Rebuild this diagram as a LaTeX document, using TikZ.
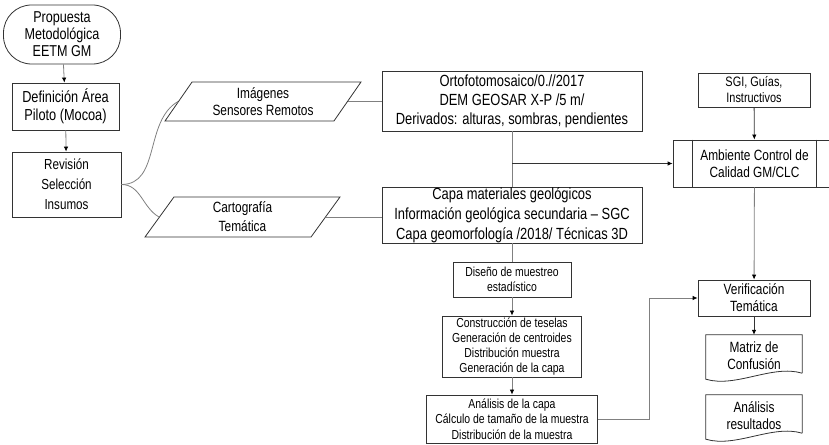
\documentclass[tikz,border=0pt]{standalone}
\usepackage{fontspec}
\setmainfont{Liberation Sans}[FakeStretch=0.8]
\usepackage{tikz}
\usetikzlibrary{arrows.meta}
\usetikzlibrary{shapes.geometric}
\begin{document}
\begin{tikzpicture}
[x=1bp,y=-1bp,
box/.style={rectangle,draw=black!80,line width=0.8bp,align=center,inner sep=0pt},
data node/.style={trapezium,trapezium left angle=46,trapezium right angle=134,trapezium stretches body,draw=black!80,line width=0.8bp,align=center,inner sep=0pt},
bigtxt/.style={font=\fontsize{16.2}{19}\selectfont},
midtxt/.style={font=\fontsize{14.9}{17}\selectfont},
smalltxt/.style={font=\fontsize{13.1}{15.5}\selectfont},
link/.style={draw=black!50,line width=0.8bp},
flow/.style={draw=black!50,line width=0.8bp,-{Latex[length=5bp,width=4.5bp,color=black]}},
darkflow/.style={flow,draw=black!80}]
\useasboundingbox (0,0) rectangle (829,445);
\clip (0,0) rectangle (829,445);
% left column
\node[box,font=\fontsize{15.8}{17}\selectfont,rounded corners=28bp,minimum width=117bp,minimum height=59bp] (prop) at (62,34.5) {Propuesta\\Metodológica\\EETM GM};
\node[box,font=\fontsize{16}{18}\selectfont,minimum width=107bp,minimum height=47bp] (def) at (65.5,106.5) {Definición Área\\Piloto (Mocoa)};
\node[box,font=\fontsize{14.6}{20}\selectfont,minimum width=109bp,minimum height=65bp] (rev) at (66.5,184.5) {Revisión\\Selección\\Insumos};
% inputs
\node[data node,midtxt,minimum width=196bp,minimum height=39bp] (img) at (263,101.5) {Imágenes\\Sensores Remotos};
\node[data node,font=\fontsize{14.9}{19}\selectfont,minimum width=195bp,minimum height=40bp] (carto) at (242.5,217) {Cartografía\\Temática};
\node[box,bigtxt,minimum width=260bp,minimum height=60bp] (orto) at (512,101) {Ortofotomosaico/0.//2017\\DEM GEOSAR X-P /5 m/\\Derivados: alturas, sombras, pendientes};
\node[box,font=\fontsize{16.2}{20}\selectfont,minimum width=260bp,minimum height=56bp] (capa) at (512,215) {Capa materiales geológicos\\Información geológica secundaria – SGC\\Capa geomorfología /2018/ Técnicas 3D};
% sampling
\node[box,smalltxt,minimum width=118bp,minimum height=35bp] (diseno) at (512,279.5) {Diseño de muestreo\\estadístico};
\node[box,font=\fontsize{13.1}{15}\selectfont,minimum width=139bp,minimum height=61bp] (constr) at (512,346.5) {Construcción de teselas\\Generación de centroides\\Distribución muestra\\Generación de la capa};
\node[box,smalltxt,minimum width=171bp,minimum height=48bp] (anal) at (512,419) {Análisis de la capa\\Cálculo de tamaño de la muestra\\Distribución de la muestra};
% quality control
\node[box,font=\fontsize{13.7}{16}\selectfont,minimum width=112bp,minimum height=34bp] (sgi) at (754,90) {SGI, Guías,\\Instructivos};
\node[box,midtxt,minimum width=163bp,minimum height=47bp] (amb) at (754.5,163.5) {Ambiente Control de\\Calidad GM/CLC};
\node[box,midtxt,minimum width=112bp,minimum height=36bp] (verif) at (754,298) {Verificación\\Temática};
\node[midtxt,align=center,inner sep=0pt,minimum width=96bp,minimum height=42bp] (matriz) at (754,356) {Matriz de\\Confusión};
\node[midtxt,align=center,inner sep=0pt,minimum width=96bp,minimum height=42bp] (anres) at (754,416) {Análisis\\resultados};
\draw[draw=black!80,line width=0.8bp] ([xshift=20bp]amb.north west) -- ([xshift=20bp]amb.south west)
  ([xshift=-20bp]amb.north east) -- ([xshift=-20bp]amb.south east);
\foreach \n in {matriz,anres}
  \draw[draw=black!80,line width=0.8bp] ([yshift=4bp]\n.south east) -- (\n.north east) -- (\n.north west)
    -- ([yshift=-2bp]\n.south west) .. controls +(30,9) and +(-30,-9) .. ([yshift=4bp]\n.south east);
% connectors
\coordinate (split) at (orto.south |- amb.west);
\path
(prop) edge[flow] (def)
(def) edge[flow] (rev)
(rev.east) edge[link,out=0,in=210] (img.west)
(rev.east) edge[link,out=0,in=150] (carto.west)
(img.east) edge[link] (img.east -| orto.west)
(carto.east) edge[link] (carto.east -| capa.west)
(orto) edge[link] (capa)
(split) edge[darkflow] (amb.west)
(sgi) edge[darkflow] (amb)
(amb) edge[flow] (verif)
(capa) edge[link] (diseno)
(diseno) edge[flow] (constr)
(constr) edge[flow] (anal)
(verif) edge[darkflow] (matriz);
\draw[flow] (anal.east) -- ++(51,0) |- (verif.west);
\end{tikzpicture}
\end{document}
